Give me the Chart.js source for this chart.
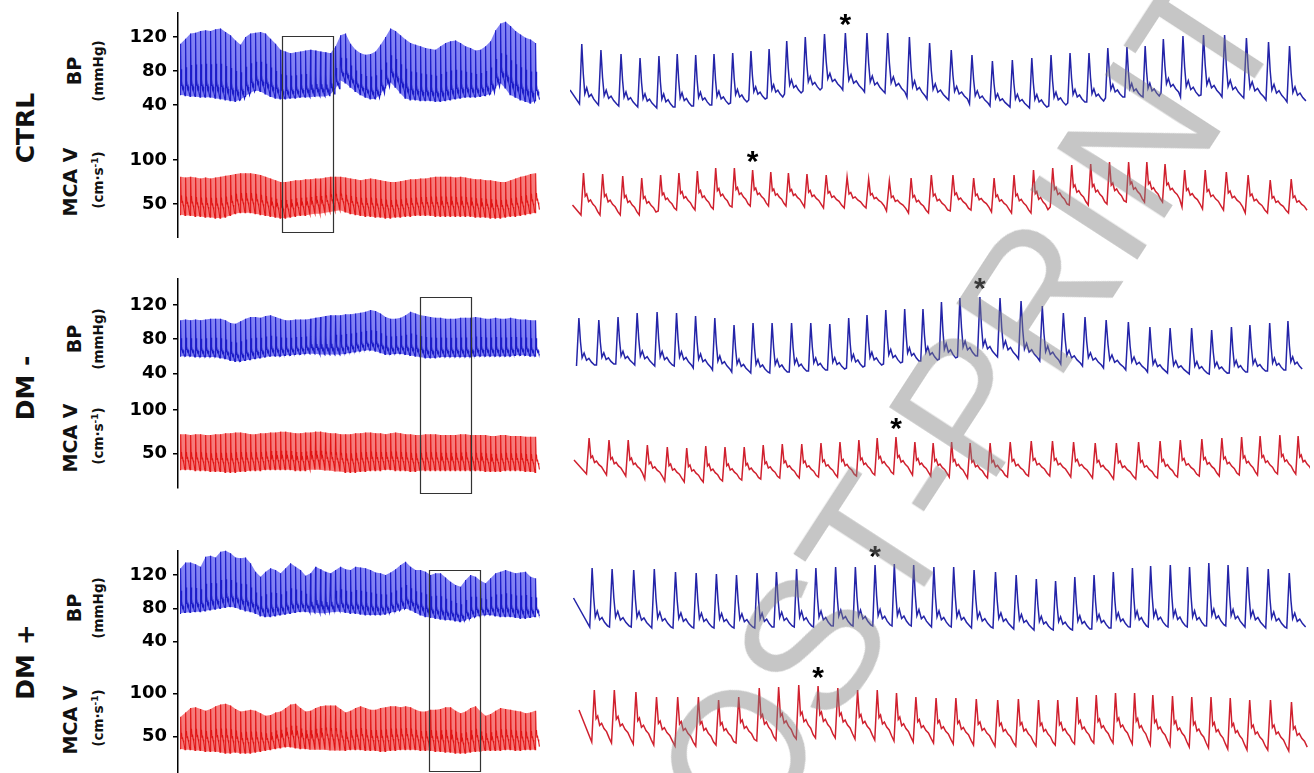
<!DOCTYPE html>
<html>
<head>
<meta charset="utf-8">
<script src="https://cdn.jsdelivr.net/npm/chart.js@4.4.1/dist/chart.umd.min.js"></script>
<style>
  body { margin: 0; width: 1314px; height: 773px; overflow: hidden; position: relative; background: #fff; }
  .lab { position: absolute; transform: translate(-50%, -50%) rotate(-90deg); white-space: nowrap;
         font-family: "DejaVu Sans", sans-serif; font-weight: bold; color: #111; line-height: 1; }
  .grp { font-size: 25px; }
  .sig { font-size: 19px; }
  .unit { font-size: 13.5px; }
  .unit sup { font-size: 9px; }
  #wm { position: absolute; left: 555px; top: 870px; transform-origin: 0 0; transform: rotate(-57deg);
        font: 185px/1 "Liberation Sans", sans-serif; color: rgba(128,128,128,0.45); white-space: nowrap;
        pointer-events: none; z-index: 5; }
</style>
</head>
<body>

<div class="lab grp" style="left:25px;top:128px">CTRL</div>
<div class="lab sig" style="left:74px;top:71px">BP</div>
<div class="lab unit" style="left:99px;top:71px">(mmHg)</div>
<div class="lab sig" style="left:70px;top:182px">MCA V</div>
<div class="lab unit" style="left:98px;top:180px">(cm·s<sup>-1</sup>)</div>

<div class="lab grp" style="left:25px;top:388px">DM -</div>
<div class="lab sig" style="left:74px;top:339px">BP</div>
<div class="lab unit" style="left:99px;top:339px">(mmHg)</div>
<div class="lab sig" style="left:70px;top:438px">MCA V</div>
<div class="lab unit" style="left:98px;top:436px">(cm·s<sup>-1</sup>)</div>

<div class="lab grp" style="left:25px;top:662px">DM +</div>
<div class="lab sig" style="left:74px;top:608px">BP</div>
<div class="lab unit" style="left:99px;top:608px">(mmHg)</div>
<div class="lab sig" style="left:70px;top:720px">MCA V</div>
<div class="lab unit" style="left:98px;top:718px">(cm·s<sup>-1</sup>)</div>

<div id="wm">POST-PRINT</div>

<script>
const shapeBP  = [[0,0],[0.12,1],[0.2,0.5],[0.28,0.17],[0.38,0.27],[0.5,0.12],[0.62,0.16],[0.75,0.08],[0.9,0.02]];
const shapeMCA = [[0,0],[0.13,1],[0.22,0.45],[0.3,0.5],[0.4,0.32],[0.5,0.36],[0.62,0.26],[0.75,0.2],[0.88,0.08]];

const ticksBP  = [40, 80, 120];
const ticksMCA = [50, 100];

// ---- left column: compressed recordings, one systolic / diastolic value per drawn beat
const ctrlBPsysL = [112,118,124,125,127,128,127,129,130,126,122,116,111,120,124,125,126,124,118,112,105,103,101,102,103,104,105,104,103,102,101,109,122,124,112,105,101,99,100,103,111,120,130,127,122,117,113,111,109,107,106,105,109,113,115,116,113,109,107,104,105,109,115,128,136,138,133,127,123,119,117,113];
const ctrlBPdiaL = [52,51,50,50,49,49,49,48,47,46,45,44,46,50,54,57,56,53,50,48,47,47,48,48,49,49,49,50,50,50,52,58,69,66,61,56,52,49,47,47,52,60,67,61,54,48,46,46,45,45,45,44,44,45,46,47,48,49,49,49,50,51,53,60,66,60,52,49,46,44,42,45];
const ctrlMCAsysL = [81,80,81,80,79,80,79,80,81,82,83,84,85,85,85,84,83,81,79,77,75,75,76,77,77,78,78,79,79,80,81,81,81,80,79,78,77,78,79,78,77,76,75,75,76,77,78,78,79,79,80,81,81,81,81,80,81,80,79,78,78,77,77,76,75,75,77,79,81,82,84,85];
const ctrlMCAdiaL = [38,37,37,36,36,35,35,34,34,35,37,39,40,40,40,39,38,37,36,35,34,34,35,36,37,37,38,39,39,40,41,42,43,41,39,38,37,36,36,35,35,34,34,35,35,36,36,37,37,37,37,36,36,36,36,36,36,36,36,35,35,35,34,34,34,35,36,36,37,38,39,40];

const dmmBPsysL = [102,103,102,103,102,103,104,104,104,102,99,98,101,104,106,106,105,107,108,106,104,102,102,103,103,103,104,105,106,107,108,108,108,109,109,110,111,112,114,113,110,106,104,104,105,108,112,110,108,107,106,105,105,104,104,104,105,105,105,106,105,104,104,105,104,104,105,104,103,103,102,102];
const dmmBPdiaL = [60,60,60,59,59,59,59,59,58,57,55,54,54,55,56,57,58,59,60,60,60,61,61,62,62,63,63,63,62,62,62,62,62,63,64,65,66,67,67,66,64,62,62,63,63,62,61,60,59,58,58,58,59,59,59,59,59,59,59,60,60,60,60,60,60,60,60,61,61,61,60,60];
const dmmMCAsysL = [72,72,71,72,72,71,71,72,72,73,73,74,74,73,72,72,73,73,74,74,75,75,74,73,73,74,74,75,75,74,73,73,72,72,72,73,73,74,74,73,73,72,73,74,73,72,72,71,71,72,72,72,71,71,71,71,72,72,71,71,71,71,70,70,71,71,70,70,70,69,69,69];
const dmmMCAdiaL = [31,31,31,30,30,30,29,29,29,28,28,28,29,29,30,30,30,31,31,31,31,31,31,30,30,30,31,31,31,30,30,29,29,28,28,28,29,29,30,30,30,31,31,30,30,30,29,29,30,30,30,30,30,30,30,30,30,30,30,30,30,29,29,29,29,30,30,30,30,29,29,28];

const dmpBPsysL = [128,135,135,133,130,142,143,141,148,149,146,141,140,141,134,124,118,124,128,126,122,128,134,130,126,119,122,130,127,124,122,126,130,127,126,130,129,128,126,123,122,120,123,127,132,136,130,126,126,124,120,122,122,117,112,108,106,114,120,118,113,110,116,122,124,126,124,122,123,124,118,116];
const dmpBPdiaL = [74,75,75,76,76,77,78,79,80,81,82,81,79,77,76,74,71,70,70,71,72,73,74,75,76,76,75,75,74,74,75,76,76,75,74,74,73,72,72,72,72,73,75,76,78,80,78,75,72,70,69,68,67,66,66,65,64,66,68,70,71,72,72,71,70,70,70,69,68,68,69,70];
const dmpMCAsysL = [73,78,83,84,82,80,82,85,87,88,86,82,79,80,81,80,77,74,75,78,79,83,87,88,83,79,80,83,85,86,86,86,82,78,80,83,85,83,81,81,83,84,85,85,84,85,84,81,79,79,81,81,82,84,84,80,77,79,83,85,79,74,76,80,83,82,81,80,79,77,78,80];
const dmpMCAdiaL = [36,35,35,34,34,33,33,33,32,31,31,32,31,31,31,32,33,34,35,36,37,38,38,37,36,36,35,35,35,35,34,34,34,34,35,35,35,34,34,34,33,33,34,34,35,35,35,35,34,34,34,33,33,32,32,31,31,31,32,33,33,34,34,34,34,35,35,34,34,35,35,35];

// zoom windows (beat index range) and box edges in axis units
const ctrlWindow = [20.4, 30.6], ctrlBoxTop = 121, ctrlBoxBottom = 18;
const dmmWindow  = [47.9, 58.1], dmmBoxTop = 129, dmmBoxBottom = 4;
const dmpWindow  = [49.7, 60.0], dmpBoxTop = 126, dmpBoxBottom = 10;

// ---- right column: expanded windows, beat by beat (RR in s, values in mmHg / cm·s-1)
const ctrlRR = [0.76,0.81,0.76,0.76,0.73,0.74,0.73,0.75,0.73,0.73,0.70,0.74,0.76,0.83,0.87,0.82,0.88,0.80,0.87,0.83,0.82,0.80,0.78,0.77,0.76,0.76,0.75,0.77,0.73,0.72,0.78,0.82,0.84,0.87,0.89,0.84];
const ctrlBPsys  = [111,105,101,97,99,101,100,101,102,104,106,114,118,121,122,122,122,118,112,105,100,94,95,97,100,102,102,107,108,109,116,119,120,120,117,113,109];
const ctrlBPdia  = [51,50,49,48,47,48,49,50,52,55,57,61,64,67,65,63,62,58,56,55,51,49,48,47,49,52,53,57,58,58,62,58,60,58,57,55,53];
const ctrlMCAsys = [82,81,79,77,80,82,84,87,87,85,83,82,81,80,78,76,74,77,80,80,77,77,80,85,87,90,91,93,93,93,91,85,85,83,80,75,76];
const ctrlMCAdia = [40,40,40,40,44,45,45,46,48,49,49,49,48,47,47,47,44,42,42,44,45,43,42,42,48,50,50,51,53,53,53,48,46,45,42,42,42];

const dmmRR = [0.80,0.77,0.76,0.80,0.78,0.76,0.77,0.77,0.76,0.76,0.78,0.77,0.76,0.76,0.73,0.75,0.76,0.73,0.74,0.73,0.80,0.80,0.84,0.85,0.84,0.87,0.84,0.89,0.87,0.80,0.87,0.80,0.80,0.73,0.80,0.73];
const dmmBPsys  = [112,110,113,117,118,117,114,112,105,107,107,107,107,106,112,115,120,121,121,128,132,133,132,129,124,117,113,110,108,103,102,102,100,103,105,107,109];
const dmmBPdia  = [64,65,66,65,64,64,62,60,58,57,57,58,59,60,62,64,66,68,69,71,73,74,73,71,69,66,64,62,60,58,57,56,56,57,58,59,60];
const dmmMCAsys = [77,75,75,70,68,67,69,68,68,70,71,71,72,73,75,77,78,73,72,73,72,72,73,74,74,73,72,72,73,74,75,76,77,78,79,80,79];
const dmmMCAdia = [41,40,39,36,34,33,33,34,35,36,37,37,38,38,39,40,41,40,39,38,37,37,38,39,39,38,37,36,36,37,38,39,39,40,40,41,41];

const dmpRR = [0.79,0.87,0.82,0.85,0.83,0.81,0.80,0.83,0.77,0.81,0.77,0.79,0.79,0.79,0.77,0.77,0.81,0.79,0.81,0.86,0.83,0.81,0.77,0.77,0.77,0.77,0.77,0.72,0.79,0.77,0.77,0.77,0.77,0.83,0.84];
const dmpBPsys  = [132,131,130,131,128,127,126,125,127,128,131,132,133,133,135,136,135,133,133,130,128,125,121,119,123,125,128,132,134,135,133,137,135,133,131,127];
const dmpBPdia  = [73,73,73,72,72,72,72,72,72,73,73,73,74,74,74,74,74,73,73,72,72,71,70,70,70,71,72,73,73,73,73,74,74,73,72,72];
const dmpMCAsys = [100,100,98,93,93,93,90,93,102,103,105,104,102,100,100,97,93,92,92,91,90,91,90,90,93,95,97,97,95,94,93,93,92,90,90,88];
const dmpMCAdia = [48,47,46,45,44,44,45,47,49,50,51,52,52,51,50,49,48,47,46,45,44,44,44,45,46,47,47,46,45,44,43,42,41,40,40,39];

// first foot time (s), first value of the record (s, value), marked beat (0-based)
const ctrlStart = 0.38, dmmStart = 0.26, dmpStart = 0.79;
const ctrlMCAdelay = 0.06, dmmMCAdelay = 0.4, dmpMCAdelay = 0.08;
const ctrlBPlead = [0, 65],     ctrlMCAlead = [0.1, 50];
const dmmBPlead = null,         dmmMCAlead = [0.16, 55];
const dmpBPlead = [0.14, 102],  dmpMCAlead = [0.36, 80];
const ctrlStars = [14, 9], dmmStars = [21, 16], dmpStars = [14, 11];

// ---- build a waveform from per-beat values
function waveform(sys, dia, rr, t0, shape, lead) {
  const pts = lead ? [{ x: lead[0], y: lead[1] }] : [];
  let t = t0;
  sys.forEach((s, i) => {
    const d = dia[i];
    const p = Array.isArray(rr) ? rr[Math.min(i, rr.length - 1)] : rr;
    shape.forEach(([f, a]) => pts.push({ x: t + f * p, y: d + a * (s - d) }));
    t += p;
  });
  return pts;
}
function peakOf(pts, beat, shape, lead) {
  return pts[(lead ? 1 : 0) + beat * shape.length + 1];
}

const marks = {
  id: 'marks',
  afterDatasetsDraw(chart, args, o) {
    const { ctx, scales: { x, y } } = chart;
    ctx.save();
    if (o.star) {
      ctx.font = 'bold 30px "Liberation Sans"';
      ctx.fillStyle = '#000';
      ctx.textAlign = 'center';
      ctx.textBaseline = 'alphabetic';
      const m = ctx.measureText('*');
      const cx = x.getPixelForValue(o.star.x);
      const cy = y.getPixelForValue(o.star.y) - 13;
      ctx.fillText('*', cx, cy + (m.actualBoundingBoxAscent - m.actualBoundingBoxDescent) / 2);
    }
    if (o.box) {
      const x0 = Math.round(x.getPixelForValue(o.box.x0)) + 0.5;
      const x1 = Math.round(x.getPixelForValue(o.box.x1)) + 0.5;
      ctx.strokeStyle = '#333';
      ctx.lineWidth = 1.2;
      ctx.beginPath();
      if (o.box.top != null) {
        const ty = Math.round(y.getPixelForValue(o.box.top)) + 0.5;
        ctx.moveTo(x0, chart.height); ctx.lineTo(x0, ty); ctx.lineTo(x1, ty); ctx.lineTo(x1, chart.height);
      } else {
        const by = Math.round(y.getPixelForValue(o.box.bottom)) + 0.5;
        ctx.moveTo(x0, 0); ctx.lineTo(x0, by); ctx.lineTo(x1, by); ctx.lineTo(x1, 0);
      }
      ctx.stroke();
    }
    ctx.restore();
  }
};

function makeCanvas(left, top, w, h) {
  const cv = document.createElement('canvas');
  cv.width = w; cv.height = h;
  cv.style.cssText = `position:absolute;left:${left}px;top:${top}px;width:${w}px;height:${h}px`;
  document.body.appendChild(cv);
  return cv;
}

// left panels: axis at x=178, traces 178..543; a band between the beat feet and peaks
// stands in for the density of the compressed recording
function leftPanel(top, h, padB, min, max, ticks, sys, dia, shape, color, band, box) {
  const cv = makeCanvas(98, top, 445, h + padB);
  const feet = dia.map((d, i) => ({ x: i, y: d }));
  const peaks = sys.map((s, i) => ({ x: i + shape[1][0], y: s }));
  return new Chart(cv, {
    type: 'line',
    data: { datasets: [
      { data: waveform(sys, dia, 1, 0, shape), borderColor: color, borderWidth: 1.1, pointRadius: 0, tension: 0 },
      { data: feet, borderWidth: 0, pointRadius: 0, fill: false },
      { data: peaks, borderWidth: 0, pointRadius: 0, fill: 1, backgroundColor: band }
    ] },
    options: {
      responsive: false, animation: false, events: [],
      layout: { padding: { top: 0, left: 0, right: 0, bottom: padB } },
      plugins: { legend: { display: false }, tooltip: { enabled: false }, marks: { box } },
      scales: {
        x: { type: 'linear', display: false, min: -0.4, max: 72.6 },
        y: {
          min, max,
          afterFit: s => { s.width = 80; s.paddingTop = 0; s.paddingBottom = 0; },
          afterBuildTicks: s => { s.ticks = ticks.map(v => ({ value: v })); },
          grid: { drawOnChartArea: false, tickLength: 5, color: '#000', lineWidth: 1.5 },
          border: { color: '#000', width: 1.5 },
          ticks: { color: '#000', padding: 6, font: { family: 'DejaVu Sans', weight: 'bold', size: 18 } }
        }
      }
    },
    plugins: [marks]
  });
}

// right panels: no axes, 570..1310 px = 0..29.6 s
function rightPanel(top, h, min, max, data, color, star) {
  const cv = makeCanvas(570, top, 740, h);
  return new Chart(cv, {
    type: 'line',
    data: { datasets: [{ data, borderColor: color, borderWidth: 1.5, pointRadius: 0, tension: 0 }] },
    options: {
      responsive: false, animation: false, events: [],
      layout: { padding: 0 },
      plugins: { legend: { display: false }, tooltip: { enabled: false }, marks: { star } },
      scales: {
        x: { type: 'linear', display: false, min: 0, max: 29.6 },
        y: { display: false, min, max }
      }
    },
    plugins: [marks]
  });
}

const BLUE_L = '#1c1cc8', RED_L = '#e01414', BLUE_R = '#2424a8', RED_R = '#d0202e';
const BAND_B = 'rgba(45,45,235,0.6)', BAND_R = 'rgba(240,35,35,0.6)';

// CTRL
leftPanel(12, 112, 0, 17.6, 149.4, ticksBP, ctrlBPsysL, ctrlBPdiaL, shapeBP, BLUE_L, BAND_B,
  { x0: ctrlWindow[0], x1: ctrlWindow[1], top: ctrlBoxTop });
leftPanel(124, 114, 0, 11.4, 140.9, ticksMCA, ctrlMCAsysL, ctrlMCAdiaL, shapeMCA, RED_L, BAND_R,
  { x0: ctrlWindow[0], x1: ctrlWindow[1], bottom: ctrlBoxBottom });

// DM -
leftPanel(278, 108, 0, 25.1, 151.6, ticksBP, dmmBPsysL, dmmBPdiaL, shapeBP, BLUE_L, BAND_B,
  { x0: dmmWindow[0], x1: dmmWindow[1], top: dmmBoxTop });
leftPanel(386, 102, 8, 9.9, 127.7, ticksMCA, dmmMCAsysL, dmmMCAdiaL, shapeMCA, RED_L, BAND_R,
  { x0: dmmWindow[0], x1: dmmWindow[1], bottom: dmmBoxBottom });

// DM +
leftPanel(550, 110, 0, 18, 150, ticksBP, dmpBPsysL, dmpBPdiaL, shapeBP, BLUE_L, BAND_B,
  { x0: dmpWindow[0], x1: dmpWindow[1], top: dmpBoxTop });
leftPanel(660, 113, 0, 8.1, 138.4, ticksMCA, dmpMCAsysL, dmpMCAdiaL, shapeMCA, RED_L, BAND_R,
  { x0: dmpWindow[0], x1: dmpWindow[1], bottom: dmpBoxBottom });

// expanded windows
function group(rr, t0, delay, bpSys, bpDia, bpLead, mcaSys, mcaDia, mcaLead, stars, geo) {
  const bp = waveform(bpSys, bpDia, rr, t0, shapeBP, bpLead);
  const mca = waveform(mcaSys, mcaDia, rr, t0 + delay, shapeMCA, mcaLead);
  rightPanel(geo[0], geo[1], geo[2], geo[3], bp, BLUE_R, peakOf(bp, stars[0], shapeBP, bpLead));
  rightPanel(geo[4], geo[5], geo[6], geo[7], mca, RED_R, peakOf(mca, stars[1], shapeMCA, mcaLead));
}
group(ctrlRR, ctrlStart, ctrlMCAdelay, ctrlBPsys, ctrlBPdia, ctrlBPlead, ctrlMCAsys, ctrlMCAdia, ctrlMCAlead, ctrlStars,
  [10, 120, 25, 145, 140, 95, 20, 115]);
group(dmmRR, dmmStart, dmmMCAdelay, dmmBPsys, dmmBPdia, dmmBPlead, dmmMCAsys, dmmMCAdia, dmmMCAlead, dmmStars,
  [262, 133, 35, 168, 405, 95, 15, 110]);
group(dmpRR, dmpStart, dmpMCAdelay, dmpBPsys, dmpBPdia, dmpBPlead, dmpMCAsys, dmpMCAdia, dmpMCAlead, dmpStars,
  [538, 112, 50, 162, 655, 118, 17, 135]);
</script>
</body>
</html>
